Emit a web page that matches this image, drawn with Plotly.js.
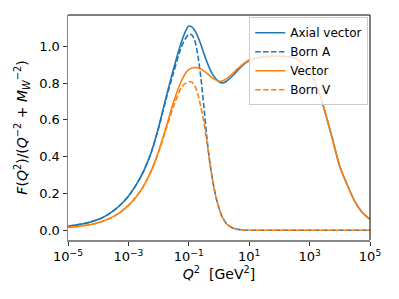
<!DOCTYPE html>
<html>
<head>
<meta charset="utf-8">
<script src="https://cdn.plot.ly/plotly-3.0.1.min.js"></script>
<style>html,body{margin:0;padding:0;background:#fff;}#chart{width:399px;height:299px;}</style>
</head>
<body>
<div id="chart"></div>
<script>
// log10(Q^2) grid for the full curves
const logQ2Full = [-5, -4.75, -4.5, -4.25, -4, -3.75, -3.5, -3.25, -3, -2.75, -2.5, -2.25, -2, -1.75, -1.5, -1.25, -1.1, -1, -0.9, -0.75, -0.6, -0.5, -0.4, -0.25, -0.1, 0, 0.1, 0.25, 0.5, 0.75, 1, 1.25, 1.5, 2, 2.5, 2.75, 3, 3.25, 3.5, 3.75, 4, 4.25, 4.5, 4.75, 5];
const axialVector = [0.022, 0.028, 0.035, 0.045, 0.058, 0.078, 0.105, 0.14, 0.185, 0.245, 0.32, 0.42, 0.56, 0.725, 0.88, 1.02, 1.085, 1.11, 1.105, 1.07, 1.01, 0.96, 0.915, 0.858, 0.822, 0.807, 0.80, 0.81, 0.848, 0.892, 0.922, 0.937, 0.943, 0.946, 0.937, 0.912, 0.865, 0.78, 0.65, 0.50, 0.346, 0.245, 0.155, 0.095, 0.06];
const vectorFF = [0.016, 0.019, 0.024, 0.031, 0.041, 0.055, 0.074, 0.10, 0.135, 0.18, 0.24, 0.32, 0.43, 0.56, 0.70, 0.81, 0.855, 0.873, 0.882, 0.884, 0.876, 0.866, 0.853, 0.832, 0.816, 0.81, 0.811, 0.824, 0.86, 0.898, 0.925, 0.938, 0.943, 0.946, 0.937, 0.912, 0.865, 0.78, 0.65, 0.50, 0.346, 0.245, 0.155, 0.095, 0.06];

// log10(Q^2) grid for the Born curves
const logQ2Born = [-5, -4.75, -4.5, -4.25, -4, -3.75, -3.5, -3.25, -3, -2.75, -2.5, -2.25, -2, -1.75, -1.5, -1.25, -1.1, -1, -0.9, -0.8, -0.7, -0.6, -0.5, -0.4, -0.3, -0.2, -0.1, 0, 0.1, 0.25, 0.5, 0.75, 1, 2, 3, 4, 5];
const bornA = [0.022, 0.028, 0.035, 0.045, 0.058, 0.078, 0.105, 0.14, 0.185, 0.245, 0.32, 0.42, 0.555, 0.715, 0.86, 0.995, 1.045, 1.065, 1.062, 1.03, 0.95, 0.83, 0.67, 0.50, 0.365, 0.26, 0.18, 0.12, 0.075, 0.035, 0.009, 0.002, 0, 0, 0, 0, 0];
const bornV = [0.016, 0.019, 0.024, 0.031, 0.041, 0.055, 0.074, 0.10, 0.135, 0.18, 0.24, 0.32, 0.425, 0.55, 0.675, 0.775, 0.80, 0.807, 0.805, 0.785, 0.74, 0.67, 0.585, 0.48, 0.365, 0.26, 0.18, 0.12, 0.075, 0.035, 0.009, 0.002, 0, 0, 0, 0, 0];

const seriesNames = ["Axial vector", "Born A", "Vector", "Born V"];
const xTickVals = [1e-5, 1e-3, 1e-1, 1e1, 1e3, 1e5];
const xTickText = ["10<sup>\u22125</sup>", "10<sup>\u22123</sup>", "10<sup>\u22121</sup>", "10<sup>1</sup>", "10<sup>3</sup>", "10<sup>5</sup>"];
const yTickVals = [0, 0.2, 0.4, 0.6, 0.8, 1.0];
const yTickText = ["0.0", "0.2", "0.4", "0.6", "0.8", "1.0"];

const toQ2 = a => a.map(e => Math.pow(10, e));
const blue = "#1f77b4", orange = "#ff7f0e";
const dash = "5.5px,2.4px";

const traces = [
  {x: toQ2(logQ2Full), y: axialVector, name: seriesNames[0], mode: "lines", line: {color: blue, width: 1.6, shape: "spline", smoothing: 0.7}},
  {x: toQ2(logQ2Born), y: bornA, name: seriesNames[1], mode: "lines", line: {color: blue, width: 1.6, dash: dash, shape: "spline", smoothing: 0.7}},
  {x: toQ2(logQ2Full), y: vectorFF, name: seriesNames[2], mode: "lines", line: {color: orange, width: 1.6, shape: "spline", smoothing: 0.7}},
  {x: toQ2(logQ2Born), y: bornV, name: seriesNames[3], mode: "lines", line: {color: orange, width: 1.6, dash: dash, shape: "spline", smoothing: 0.7}}
];

const font = {family: "DejaVu Sans", size: 13, color: "#000"};
const layout = {
  width: 399, height: 299,
  margin: {l: 68, r: 29, t: 15, b: 59},
  paper_bgcolor: "#fff", plot_bgcolor: "#fff",
  font: font,
  showlegend: true,
  legend: {x: 0.6, y: 0.99, xanchor: "left", yanchor: "top", bgcolor: "rgba(255,255,255,0.8)", bordercolor: "#cccccc", borderwidth: 1, font: {family: "DejaVu Sans", size: 12, color: "#000"}, tracegroupgap: 0},
  xaxis: {
    type: "log", range: [-5, 5], showgrid: false, zeroline: false,
    showline: true, linecolor: "#888", linewidth: 1.5,
    ticks: "outside", ticklen: 4, tickcolor: "#333", tickwidth: 1,
    tickvals: xTickVals, ticktext: xTickText,
    tickfont: {family: "DejaVu Sans", size: 13, color: "#000"},
    title: {text: "<i>Q</i><sup>2</sup>  [GeV<sup>2</sup>]", font: {family: "DejaVu Sans", size: 14, color: "#000"}, standoff: 6}
  },
  yaxis: {
    range: [-0.053, 1.17], showgrid: false, zeroline: false,
    showline: true, linecolor: "#888", linewidth: 1.5,
    ticks: "outside", ticklen: 4, tickcolor: "#333", tickwidth: 1,
    tickvals: yTickVals, ticktext: yTickText,
    tickfont: {family: "DejaVu Sans", size: 13, color: "#000"},
    title: {text: "<i>F</i>(<i>Q</i><sup>2</sup>)/(<i>Q</i><sup>\u22122</sup> + <i>M</i><sub><i>W</i></sub><sup>\u22122</sup>)", font: {family: "DejaVu Sans", size: 14, color: "#000"}, standoff: 8}
  },
  shapes: [
    {type: "line", xref: "paper", yref: "paper", x0: 0, x1: 1, y0: 1, y1: 1, line: {color: "#000", width: 1}},
    {type: "line", xref: "paper", yref: "paper", x0: 1, x1: 1, y0: 0, y1: 1, line: {color: "#000", width: 1}}
  ]
};

Plotly.newPlot("chart", traces, layout, {displayModeBar: false, staticPlot: true});
</script>
</body>
</html>
